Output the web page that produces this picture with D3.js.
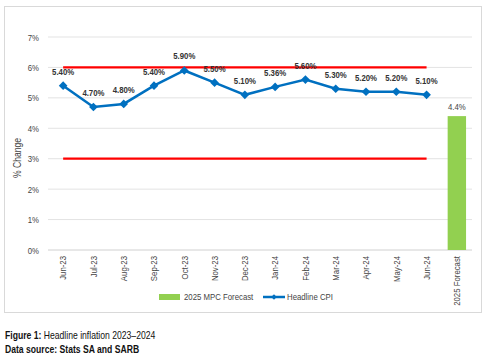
<!DOCTYPE html>
<html>
<head>
<meta charset="utf-8">
<script src="https://cdn.jsdelivr.net/npm/d3@7"></script>
<style>
  body { margin: 0; background: #fff; font-family: "Liberation Sans", Arial, sans-serif; }
  .cap { position: absolute; left: 5px; font-size: 10.5px; color: #111; transform: scaleX(0.82); transform-origin: left top; white-space: nowrap; }
</style>
</head>
<body>
<div id="graf"></div>
<script>
const graf = d3.select('#graf')

const anchoTotal = 489
const altoTotal = 361

// datos
const meses = ['Jun-23', 'Jul-23', 'Aug-23', 'Sep-23', 'Oct-23', 'Nov-23', 'Dec-23',
               'Jan-24', 'Feb-24', 'Mar-24', 'Apr-24', 'May-24', 'Jun-24']
const cpi = [5.4, 4.7, 4.8, 5.4, 5.9, 5.5, 5.1, 5.36, 5.6, 5.3, 5.2, 5.2, 5.1]
const etiquetasCpi = ['5.40%', '4.70%', '4.80%', '5.40%', '5.90%', '5.50%', '5.10%',
                      '5.36%', '5.60%', '5.30%', '5.20%', '5.20%', '5.10%']
const pronostico = [{ cat: '2025 Forecast', valor: 4.4, etiqueta: '4.4%' }]
const banda = [3, 6]
const ticksY = [0, 1, 2, 3, 4, 5, 6, 7]

const categorias = meses.concat(pronostico.map(d => d.cat))

const svg = graf.append('svg')
    .attr('width', anchoTotal)
    .attr('height', altoTotal)
    .style('font-family', '"Liberation Sans", Arial, sans-serif')

// marco
svg.append('rect')
    .attr('x', 4.5).attr('y', 6.5)
    .attr('width', 477).attr('height', 306)
    .attr('fill', 'none').attr('stroke', '#d9d9d9')

const x = d3.scaleBand().domain(categorias).range([48, 472])
const y = d3.scaleLinear().domain([0, 7]).range([250, 37])

// rejilla
svg.append('g')
    .selectAll('line')
    .data(ticksY)
    .enter()
    .append('line')
    .attr('x1', 48).attr('x2', 472)
    .attr('y1', d => y(d)).attr('y2', d => y(d))
    .attr('stroke', d => d === 0 ? '#d0d0d0' : '#e3e3e3')
    .attr('stroke-width', 1)

// eje Y
const ejeY = svg.append('g')
    .attr('transform', 'translate(48,0)')
    .call(d3.axisLeft(y).tickValues(ticksY).tickFormat(d => d + '%').tickSize(0).tickPadding(9))
ejeY.select('.domain').remove()
ejeY.selectAll('text')
    .attr('font-family', null)
    .attr('font-size', 9.5).attr('fill', '#444')

svg.append('text')
    .attr('transform', 'translate(21,158) rotate(-90)')
    .attr('text-anchor', 'middle')
    .attr('font-size', 10.5).attr('fill', '#444')
    .text('% Change')

// eje X
const ejeX = svg.append('g')
    .attr('transform', 'translate(0,250)')
    .call(d3.axisBottom(x).tickSize(0).tickPadding(0))
ejeX.select('.domain').remove()
ejeX.selectAll('text')
    .attr('font-family', null)
    .attr('font-size', 9.5).attr('fill', '#444')
    .attr('text-anchor', 'end')
    .attr('dy', '0.35em')
    .attr('transform', 'translate(0,6) rotate(-90)')

const cx = d => x(d) + x.bandwidth() / 2

// líneas rojas de la meta
svg.append('g')
    .selectAll('line')
    .data(banda)
    .enter()
    .append('line')
    .attr('x1', cx(meses[0])).attr('x2', cx(meses[meses.length - 1]))
    .attr('y1', d => y(d)).attr('y2', d => y(d))
    .attr('stroke', '#ff0000').attr('stroke-width', 2.2)

// barra de pronóstico
svg.append('g')
    .selectAll('rect')
    .data(pronostico)
    .enter()
    .append('rect')
    .attr('x', d => cx(d.cat) - 9.2)
    .attr('width', 18.4)
    .attr('y', d => y(d.valor))
    .attr('height', d => y(0) - y(d.valor))
    .attr('fill', '#92d050')

svg.append('g')
    .selectAll('text')
    .data(pronostico)
    .enter()
    .append('text')
    .attr('x', d => cx(d.cat))
    .attr('y', d => y(d.valor) - 6)
    .attr('text-anchor', 'middle')
    .attr('font-size', 9.5).attr('fill', '#444')
    .text(d => d.etiqueta)

// línea CPI
const puntos = meses.map((m, i) => ({ m, v: cpi[i], e: etiquetasCpi[i] }))

svg.append('path')
    .datum(puntos)
    .attr('d', d3.line().x(d => cx(d.m)).y(d => y(d.v)))
    .attr('fill', 'none')
    .attr('stroke', '#0070c0')
    .attr('stroke-width', 2.5)

const diamante = d3.symbol().type(d3.symbolDiamond2).size(48)

svg.append('g')
    .selectAll('path')
    .data(puntos)
    .enter()
    .append('path')
    .attr('d', diamante)
    .attr('transform', d => `translate(${cx(d.m)},${y(d.v)})`)
    .attr('fill', '#0070c0')

svg.append('g')
    .selectAll('text')
    .data(puntos)
    .enter()
    .append('text')
    .attr('x', d => cx(d.m))
    .attr('y', d => y(d.v) - 11)
    .attr('text-anchor', 'middle')
    .attr('font-size', 9.5).attr('font-weight', 'bold').attr('fill', '#333')
    .text(d => d.e)

// leyenda
const ley = svg.append('g')
ley.append('rect')
    .attr('x', 159).attr('y', 294).attr('width', 21).attr('height', 6)
    .attr('fill', '#92d050')
ley.append('text')
    .attr('x', 184).attr('y', 297).attr('dy', '0.35em')
    .attr('font-size', 9.5).attr('fill', '#444')
    .text('2025 MPC Forecast')
ley.append('line')
    .attr('x1', 263).attr('x2', 285).attr('y1', 297).attr('y2', 297)
    .attr('stroke', '#0070c0').attr('stroke-width', 2.5)
ley.append('path')
    .attr('d', d3.symbol().type(d3.symbolDiamond2).size(20))
    .attr('transform', 'translate(274,297)')
    .attr('fill', '#0070c0')
ley.append('text')
    .attr('x', 287).attr('y', 297).attr('dy', '0.35em')
    .attr('font-size', 9.5).attr('fill', '#444')
    .text('Headline CPI')

// letra estrecha como Arial Narrow
svg.selectAll('text').each(function () {
    const largo = this.getComputedTextLength()
    d3.select(this).attr('textLength', largo * 0.82).attr('lengthAdjust', 'spacingAndGlyphs')
})
</script>
<div class="cap" style="top:329px"><b>Figure 1:</b> Headline inflation 2023–2024</div>
<div class="cap" style="top:343px"><b>Data source: Stats SA and SARB</b></div>
</body>
</html>
